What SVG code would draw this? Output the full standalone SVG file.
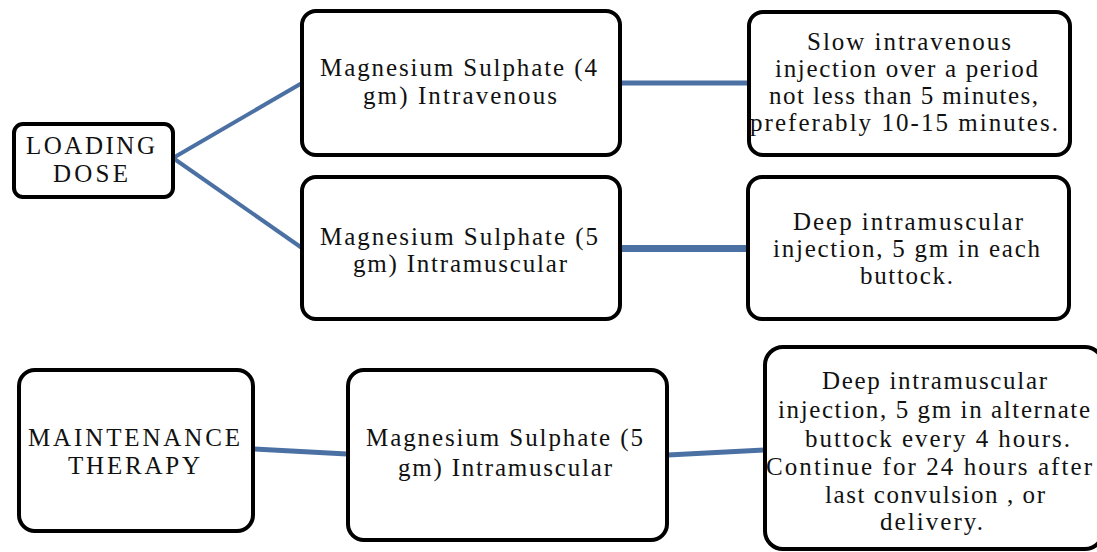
<svg xmlns="http://www.w3.org/2000/svg" width="1097" height="552" viewBox="0 0 1097 552">
<style>
.box{fill:#ffffff;stroke:#000000;stroke-width:4}
.t{font-family:'Liberation Serif','Times New Roman',serif;font-size:25px;fill:#111111}
.c{stroke:#4a70a4;fill:none;stroke-linecap:butt}
</style>
<rect width="1097" height="552" fill="#ffffff"/>
<g id="connectors">
<line class="c" x1="173" y1="158" x2="302" y2="83" stroke-width="4"/>
<line class="c" x1="173" y1="158" x2="302" y2="248" stroke-width="4"/>
<line class="c" x1="621" y1="83" x2="748" y2="83" stroke-width="5"/>
<line class="c" x1="621" y1="248.5" x2="748" y2="248.5" stroke-width="7"/>
<line class="c" x1="254" y1="449" x2="347" y2="454" stroke-width="5"/>
<line class="c" x1="668" y1="455" x2="765" y2="450" stroke-width="5"/>
</g>
<g id="loading-dose">
<rect class="box" x="14" y="124" width="159" height="73" rx="9"/>
<text class="t" x="26" y="154" textLength="129" lengthAdjust="spacing">LOADING</text>
<text class="t" x="53" y="182" textLength="75" lengthAdjust="spacing">DOSE</text>
</g>
<g id="mgso4-iv">
<rect class="box" x="302" y="11" width="318" height="144" rx="14"/>
<text class="t" x="320" y="76" textLength="277" lengthAdjust="spacing">Magnesium Sulphate (4</text>
<text class="t" x="363" y="104" textLength="194" lengthAdjust="spacing">gm) Intravenous</text>
</g>
<g id="mgso4-im">
<rect class="box" x="302" y="177" width="318" height="142" rx="14"/>
<text class="t" x="320" y="245" textLength="278" lengthAdjust="spacing">Magnesium Sulphate (5</text>
<text class="t" x="353" y="272" textLength="214" lengthAdjust="spacing">gm) Intramuscular</text>
</g>
<g id="slow-iv">
<rect class="box" x="749" y="12" width="321" height="143" rx="14"/>
<text class="t" x="807" y="50" textLength="204" lengthAdjust="spacing">Slow intravenous</text>
<text class="t" x="775" y="77" textLength="263" lengthAdjust="spacing">injection over a period</text>
<text class="t" x="769" y="104" textLength="269" lengthAdjust="spacing">not less than 5 minutes,</text>
<text class="t" x="750" y="131" textLength="308" lengthAdjust="spacing">preferably 10-15 minutes.</text>
</g>
<g id="deep-im-each">
<rect class="box" x="748" y="177" width="321" height="142" rx="14"/>
<text class="t" x="793" y="230" textLength="230" lengthAdjust="spacing">Deep intramuscular</text>
<text class="t" x="773" y="257" textLength="267" lengthAdjust="spacing">injection, 5 gm in each</text>
<text class="t" x="860" y="284" textLength="93" lengthAdjust="spacing">buttock.</text>
</g>
<g id="maintenance">
<rect class="box" x="19" y="370" width="234" height="161" rx="16"/>
<text class="t" x="28" y="446" textLength="212" lengthAdjust="spacing">MAINTENANCE</text>
<text class="t" x="68" y="474" textLength="132" lengthAdjust="spacing">THERAPY</text>
</g>
<g id="mgso4-im-maint">
<rect class="box" x="348" y="370" width="319" height="170" rx="16"/>
<text class="t" x="366" y="446" textLength="277" lengthAdjust="spacing">Magnesium Sulphate (5</text>
<text class="t" x="398" y="476" textLength="214" lengthAdjust="spacing">gm) Intramuscular</text>
</g>
<g id="deep-im-alternate">
<rect class="box" x="765" y="347" width="338" height="202" rx="18"/>
<text class="t" x="822" y="389" textLength="225" lengthAdjust="spacing">Deep intramuscular</text>
<text class="t" x="778" y="418" textLength="312" lengthAdjust="spacing">injection, 5 gm in alternate</text>
<text class="t" x="805" y="447" textLength="265" lengthAdjust="spacing">buttock every 4 hours.</text>
<text class="t" x="766" y="475" textLength="326" lengthAdjust="spacing">Continue for 24 hours after</text>
<text class="t" x="825" y="503" textLength="220" lengthAdjust="spacing">last convulsion , or</text>
<text class="t" x="880" y="530" textLength="103" lengthAdjust="spacing">delivery.</text>
</g>
</svg>
